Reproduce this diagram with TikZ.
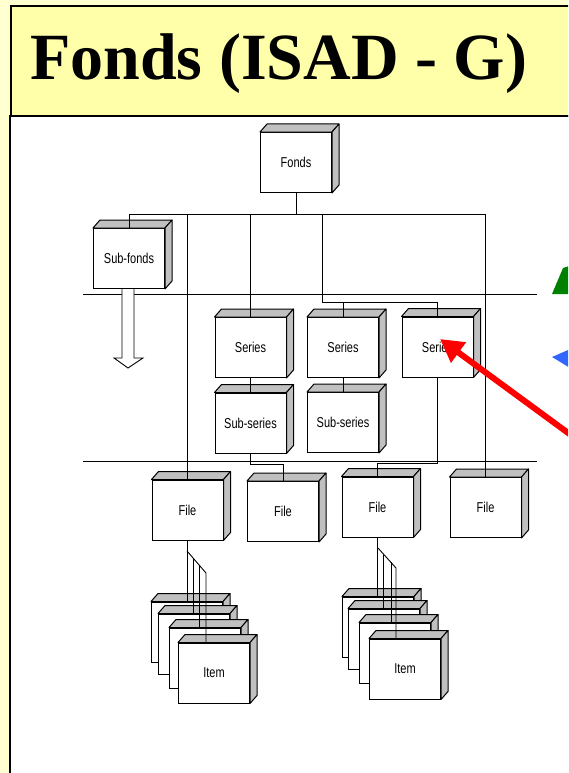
\documentclass[tikz,border=0pt]{standalone}
\usepackage{fontspec}
\setmainfont{Liberation Serif}
\newfontfamily\boxfont{Liberation Sans}
\usepackage{graphicx}
\usetikzlibrary{calc,arrows.meta}
\definecolor{paleyellow}{RGB}{255,255,208}
\definecolor{titleyellow}{RGB}{255,255,170}
\definecolor{facegray}{RGB}{192,192,192}
\definecolor{mygreen}{RGB}{0,128,0}
\definecolor{myblue}{RGB}{51,102,255}

\tikzset{
  cube/.style={draw, fill=white, line width=1pt, minimum width=71pt,
    minimum height=60pt, inner sep=0pt, font=\boxfont\fontsize{11}{13}\selectfont},
  face/.style={draw, fill=facegray, line width=1pt, line join=round},
  link/.style={line width=0.9pt},
}

% box with grey top and side
\newcommand{\cubenode}[3]{%
  \node[cube] (#1) at (#2) {\scalebox{1}[1.3]{#3}};
  \draw[face] (#1.north west) -- ++(7,-8) -- ([shift={(7,-8)}]#1.north east) -- (#1.north east) -- cycle;
  \draw[face] (#1.north east) -- ++(7,-8) -- ([shift={(7,-8)}]#1.south east) -- (#1.south east) -- cycle;
}

\begin{document}
\begin{tikzpicture}[x=1pt,y=-1pt]
\useasboundingbox (0,0) rectangle (568,773);
\clip (0,0) rectangle (568,773);
\fill[paleyellow] (0,0) rectangle (568,773);

% panels
\draw[line width=2pt, fill=white] (9.5,116) rectangle (600,800);
\draw[line width=2pt, fill=titleyellow] (11,6) rectangle (600,116);
\node[anchor=base west, inner sep=0pt, font=\bfseries\fontsize{66}{70}\selectfont] (title) at (30,80) {Fonds (ISAD - G)};

% boxes
\cubenode{fonds}{296,162.5}{Fonds}
\cubenode{subfonds}{129,258.5}{Sub-fonds}
\cubenode{series1}{250.5,347.5}{Series}
\cubenode{series2}{343,347.5}{Series}
\cubenode{series3}{437.5,347}{Series}
\cubenode{subseries1}{250.5,423}{Sub-series}
\cubenode{subseries2}{343,422.5}{Sub-series}
\cubenode{file1}{187.5,510}{File}
\cubenode{file2}{283,511.5}{File}
\cubenode{file3}{377.5,507}{File}
\cubenode{file4}{485.5,507.5}{File}

% item stacks
\cubenode{itema1}{187,632}{}
\cubenode{itemb1}{194,644}{}
\cubenode{itemc1}{205,658}{}
\cubenode{itemd1}{214,673}{Item}
\cubenode{itema2}{378,627}{}
\cubenode{itemb2}{384,639}{}
\cubenode{itemc2}{395,653}{}
\cubenode{itemd2}{405,669}{Item}

% level lines
\coordinate (sepA w) at (83,294);
\coordinate (sepA e) at (537,294);
\coordinate (sepB w) at (83,461);
\coordinate (sepB e) at (537,461);
\draw[link] (sepA w) -- (sepA e);
\draw[link] (sepB w) -- (sepB e);

% tree links
\coordinate (bar) at (0,214);
\coordinate (split) at (322,302);
\draw[link] (fonds.south) -- (fonds.south |- bar);
\draw[link] (subfonds.north) -- (subfonds.north |- bar) -- (file4.north |- bar) -- (file4.north);
\draw[link] (file1.north |- bar) -- (file1.north);
\draw[link] (series1.north |- bar) -- (series1.north);
\draw[link] (split |- bar) -- (split) -| (series3.north);
\draw[link] (series2.north |- split) -- (series2.north);
\draw[link] (series1.south) -- (subseries1.north);
\draw[link] (series2.south) -- (subseries2.north);
\draw[link] (subseries1.south) -- ++(0,11) -| (file2.north);
\draw[link] (series3.south) -- ++(0,86) -| (file3.north);

% file to items
\coordinate (fork1) at (187,551);
\coordinate (fork1end) at (206,573);
\coordinate (f1b) at ($(fork1)!0.32!(fork1end)$);
\coordinate (f1c) at ($(fork1)!0.68!(fork1end)$);
\draw[link] (file1.south) -- (file1.south |- itema1.north);
\draw[link] (fork1) -- (fork1end) -- (fork1end |- itemd1.north);
\draw[link] (f1b) -- (f1b |- itemb1.north);
\draw[link] (f1c) -- (f1c |- itemc1.north);

\coordinate (fork2) at (378,548);
\coordinate (fork2end) at (396,568);
\coordinate (f2b) at ($(fork2)!0.33!(fork2end)$);
\coordinate (f2c) at ($(fork2)!0.72!(fork2end)$);
\draw[link] (file3.south) -- (file3.south |- itema2.north);
\draw[link] (fork2) -- (fork2end) -- (fork2end |- itemd2.north);
\draw[link] (f2b) -- (f2b |- itemb2.north);
\draw[link] (f2c) -- (f2c |- itemc2.north);

% hollow arrow below sub-fonds
\draw[link, fill=white] (122,289) -- (122,358) -- (114,358) -- (128,368)
  -- (143,358) -- (134,358) -- (134,289);

% coloured pointers
\fill[mygreen] (552,294) -- (563,268) -- (575,264) -- (575,294) -- cycle;
\fill[myblue] (552,357) -- (575,347) -- (575,371) -- cycle;
\coordinate (red start) at (590,449);
\coordinate (red tip) at (440,339);
\draw[red, line width=6pt, -{Triangle[length=23pt,width=24pt]}] (red start) -- (red tip);

\end{tikzpicture}
\end{document}
